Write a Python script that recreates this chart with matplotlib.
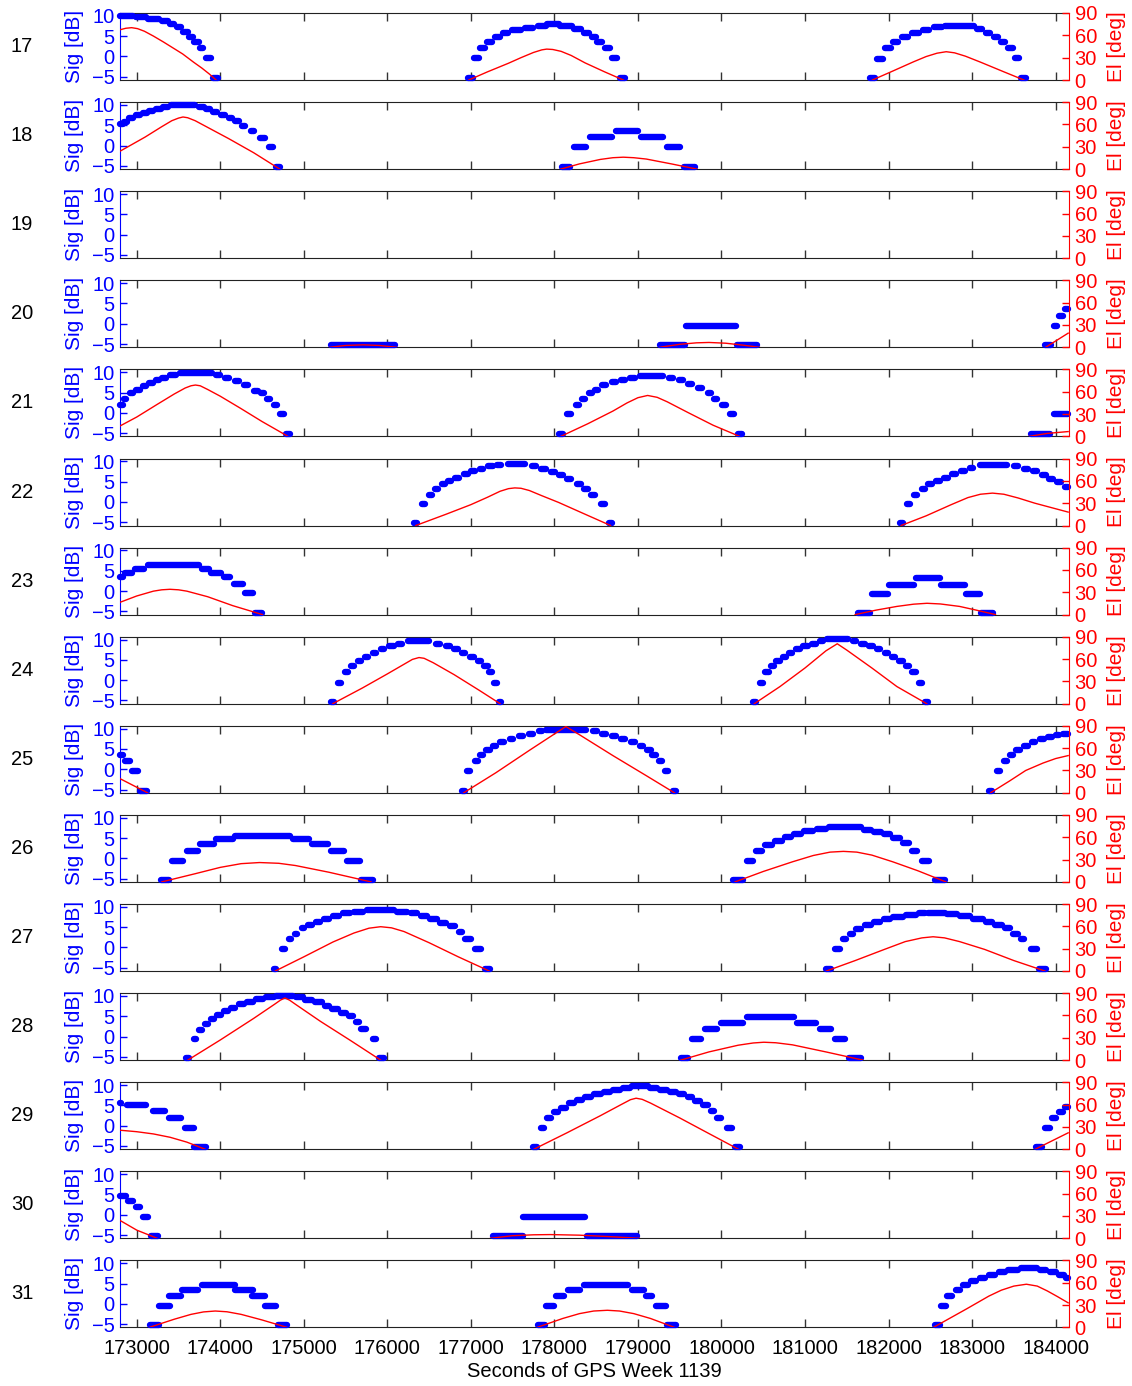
import matplotlib.pyplot as plt
from matplotlib.collections import LineCollection

plt.rcParams['font.family'] = ['Liberation Sans', 'DejaVu Sans']

# signal runs per PRN: (t_start, t_end, level in dB)
# elevation arcs per PRN: list of passes, each a list of (t, elevation deg)

sig17 = [
    (172800, 172960, 10.0), (172990, 173110, 9.7), (173140, 173270, 9.3), (173300, 173370, 8.8),
    (173400, 173450, 8.0), (173480, 173530, 7.2), (173560, 173610, 6.1), (173630, 173670, 4.9),
    (173690, 173740, 3.5), (173755, 173795, 2.0), (173830, 173890, -0.4), (173915, 173975, -5.2),
    (176960, 177020, -5.2), (177040, 177095, -0.4), (177115, 177170, 2.0), (177195, 177250, 3.5),
    (177290, 177350, 4.9), (177385, 177440, 5.7), (177495, 177595, 6.4), (177650, 177745, 7.0),
    (177800, 177900, 7.5), (177915, 178055, 7.9), (178070, 178205, 7.5), (178240, 178320, 6.8),
    (178360, 178420, 5.7), (178445, 178495, 4.9), (178515, 178565, 3.5), (178610, 178660, 2.0),
    (178690, 178745, -0.4), (178785, 178850, -5.2),
    (181775, 181840, -5.2), (181860, 181930, -0.6), (181960, 182025, 2.0), (182050, 182115, 3.5),
    (182165, 182235, 4.9), (182280, 182365, 5.7), (182410, 182485, 6.6), (182540, 182640, 7.2),
    (182670, 183025, 7.5), (183060, 183120, 6.8), (183165, 183215, 5.7), (183265, 183315, 4.9),
    (183345, 183395, 3.5), (183435, 183485, 2.0), (183510, 183560, -0.4), (183590, 183645, -5.2),
]
el17 = [
    [(172800, 67.5), (172870, 69.5), (172939, 70.3), (173010, 69), (173092, 65.5), (173200, 59),
     (173321, 51), (173450, 42), (173550, 35), (173680, 24), (173780, 16), (173870, 8), (173950, 0)],
    [(176975, 0), (177200, 11), (177450, 22.5), (177600, 30), (177750, 37), (177850, 40.5),
     (177908, 41.5), (177980, 41), (178080, 38.5), (178200, 33), (178367, 23), (178600, 11),
     (178825, 0)],
    [(181807, 0), (182050, 12), (182300, 24.5), (182450, 31.5), (182580, 36), (182690, 38),
     (182790, 36.5), (182920, 32), (183100, 24), (183380, 11), (183620, 0)],
]

sig18 = [
    (172800, 172830, 5.2), (172850, 172880, 5.9), (172910, 172960, 6.7), (172990, 173040, 7.4),
    (173070, 173120, 8.0), (173150, 173200, 8.6), (173230, 173290, 9.1), (173320, 173380, 9.5),
    (173410, 173700, 9.9), (173740, 173800, 9.4), (173830, 173880, 8.9), (173910, 173960, 8.2),
    (174010, 174060, 7.4), (174100, 174140, 6.8), (174180, 174220, 6.0), (174260, 174300, 4.9),
    (174370, 174410, 3.5), (174480, 174530, 1.9), (174580, 174630, -0.4), (174670, 174715, -5.2),
    (178090, 178190, -5.2), (178240, 178380, -0.4), (178430, 178690, 2.0), (178735, 178995, 3.5),
    (179040, 179300, 2.0), (179345, 179505, -0.4), (179555, 179680, -5.2),
]
el18 = [
    [(172800, 24), (173100, 43), (173300, 57), (173420, 65), (173500, 68.5), (173554, 70),
     (173610, 69), (173700, 65), (173800, 59), (174100, 41), (174400, 22), (174712, 0)],
    [(178076, 0), (178300, 7), (178550, 13), (178700, 15.3), (178825, 16), (178950, 15.3),
     (179100, 13.5), (179400, 7), (179704, 0)],
]

sig19 = []
el19 = []

sig20 = [
    (175330, 176090, -5.3),
    (179270, 179560, -5.3), (179580, 180170, -0.6), (180190, 180430, -5.3),
    (183870, 183950, -5.2), (183975, 184020, -0.6), (184045, 184085, 1.9), (184110, 184150, 3.6),
]
el20 = [
    [(175310, 0), (175500, 2.5), (175710, 3.3), (175900, 2.5), (176110, 0)],
    [(179260, 0), (179500, 4), (179700, 6), (179850, 6.5), (180050, 5.5), (180250, 3), (180454, 0)],
    [(183880, 0), (184150, 19)],
]

sig21 = [
    (172800, 172830, 2.0), (172850, 172875, 3.5), (172920, 172955, 4.9), (172995, 173035, 5.7),
    (173070, 173110, 6.6), (173150, 173190, 7.4), (173225, 173265, 8.0), (173300, 173345, 8.6),
    (173400, 173470, 9.2), (173520, 173900, 9.7), (173950, 174000, 9.2), (174060, 174110, 8.6),
    (174175, 174225, 7.8), (174290, 174335, 6.8), (174405, 174450, 5.5), (174485, 174525, 4.8),
    (174560, 174600, 3.5), (174640, 174680, 2.0), (174715, 174760, -0.4), (174790, 174835, -5.2),
    (178060, 178100, -5.2), (178150, 178200, -0.4), (178255, 178295, 2.0), (178335, 178370, 3.5),
    (178410, 178445, 4.8), (178485, 178525, 5.7), (178570, 178620, 6.8), (178685, 178735, 7.6),
    (178800, 178850, 8.2), (178910, 178970, 8.6), (179030, 179300, 9.0), (179370, 179425, 8.6),
    (179490, 179540, 8.0), (179605, 179650, 7.1), (179720, 179765, 6.1), (179835, 179880, 4.9),
    (179915, 179950, 3.5), (180010, 180055, 2.0), (180100, 180150, -0.4), (180195, 180240, -5.2),
    (183700, 183930, -5.2), (183980, 184150, -0.4),
]
el21 = [
    [(172800, 14), (173000, 26), (173245, 43), (173450, 57), (173580, 65), (173650, 68),
     (173703, 69), (173760, 68), (173850, 63), (174000, 54), (174239, 38), (174500, 20),
     (174812, 0)],
    [(178076, 0), (178400, 17), (178700, 34), (178870, 45), (179000, 52), (179116, 55),
     (179230, 52.5), (179350, 46.5), (179600, 32), (179900, 15), (180217, 0)],
    [(183680, 0), (183900, 4), (184150, 6.5)],
]

sig22 = [
    (176325, 176360, -5.3), (176415, 176450, -0.6), (176500, 176535, 1.6), (176575, 176610, 3.1),
    (176650, 176690, 4.3), (176725, 176765, 5.2), (176815, 176860, 6.0), (176915, 176960, 6.8),
    (177005, 177050, 7.6), (177105, 177150, 8.2), (177210, 177260, 8.8), (177310, 177360, 9.1),
    (177440, 177650, 9.3), (177730, 177780, 8.8), (177845, 177895, 8.2), (177960, 178010, 7.4),
    (178050, 178100, 6.6), (178150, 178200, 5.6), (178265, 178315, 4.5), (178360, 178405, 3.3),
    (178435, 178480, 1.6), (178560, 178600, -0.6), (178650, 178690, -5.3),
    (182135, 182170, -5.3), (182225, 182260, -0.6), (182310, 182345, 1.6), (182400, 182440, 3.1),
    (182475, 182515, 4.3), (182565, 182610, 5.2), (182665, 182710, 6.0), (182765, 182810, 6.8),
    (182870, 182915, 7.6), (182970, 183015, 8.4), (183100, 183420, 9.2), (183500, 183550, 8.8),
    (183620, 183665, 8.2), (183735, 183780, 7.5), (183835, 183880, 6.7), (183925, 183970, 5.7),
    (184020, 184065, 4.8), (184110, 184150, 3.8),
]
el22 = [
    [(176341, 0), (176700, 15), (177000, 28), (177200, 38), (177350, 46), (177450, 49.5),
     (177526, 50.5), (177600, 50), (177700, 47), (177850, 40), (178050, 31), (178350, 16),
     (178672, 0)],
    [(182151, 0), (182450, 13), (182750, 28), (182950, 37.5), (183100, 42), (183244, 43.5),
     (183380, 42), (183550, 37), (183750, 30), (184150, 18)],
]

sig23 = [
    (172800, 172830, 3.4), (172860, 172940, 4.4), (172980, 173090, 5.5), (173130, 173740, 6.5),
    (173780, 173860, 5.5), (173890, 174010, 4.5), (174050, 174120, 3.4), (174160, 174270, 1.8),
    (174300, 174390, -0.6), (174420, 174500, -5.3),
    (181630, 181780, -5.4), (181800, 181990, -0.7), (182010, 182310, 1.6), (182330, 182610, 3.2),
    (182630, 182920, 1.6), (182930, 183100, -0.7), (183110, 183250, -5.4),
]
el23 = [
    [(172800, 16.5), (173000, 25), (173200, 31.5), (173300, 33.3), (173398, 34), (173500, 33.3),
     (173600, 31.5), (173850, 24), (174150, 12), (174505, 0)],
    [(181600, 0), (181850, 6), (182100, 11), (182300, 14), (182460, 15.2), (182620, 14.3),
     (182850, 11), (183050, 6), (183280, 0)],
]

sig24 = [
    (175330, 175365, -5.3), (175411, 175451, -0.6), (175488, 175528, 1.9), (175564, 175604, 3.4),
    (175648, 175688, 4.7), (175732, 175772, 5.7), (175824, 175864, 6.7), (175920, 175965, 7.6),
    (176025, 176075, 8.4), (176125, 176175, 9.0), (176250, 176500, 9.6), (176585, 176630, 9.0),
    (176700, 176745, 8.4), (176800, 176845, 7.6), (176894, 176934, 6.8), (176994, 177034, 5.7),
    (177086, 177126, 4.7), (177162, 177202, 3.4), (177220, 177252, 1.9), (177280, 177314, -0.6),
    (177335, 177365, -5.3),
    (180378, 180410, -5.3), (180457, 180497, -0.6), (180526, 180566, 1.9), (180590, 180625, 3.4),
    (180656, 180696, 4.7), (180732, 180772, 5.7), (180808, 180848, 6.7), (180890, 180935, 7.6),
    (180980, 181030, 8.4), (181080, 181130, 9.0), (181175, 181215, 9.6), (181260, 181510, 10.2),
    (181573, 181613, 9.6), (181670, 181715, 9.0), (181770, 181815, 8.4), (181863, 181903, 7.6),
    (181955, 181995, 6.7), (182039, 182079, 5.7), (182131, 182171, 4.7), (182207, 182247, 3.4),
    (182284, 182324, 1.9), (182360, 182400, -0.6), (182440, 182475, -5.3),
]
el24 = [
    [(175347, 0), (175700, 21), (176000, 40), (176200, 53), (176300, 59.5), (176379, 62),
     (176440, 61), (176550, 55), (176800, 39), (177100, 18), (177350, 0)],
    [(180393, 0), (180700, 23), (181000, 48), (181250, 71), (181386, 80.5), (181500, 72),
     (181800, 48), (182100, 23), (182457, 0)],
]

sig25 = [
    (172800, 172830, 3.4), (172860, 172920, 2.0), (172945, 173020, -0.5), (173040, 173120, -5.4),
    (176895, 176930, -5.4), (176955, 176995, -0.5), (177047, 177087, 2.0), (177108, 177148, 3.4),
    (177185, 177225, 4.7), (177261, 177301, 5.7), (177350, 177395, 6.6), (177465, 177510, 7.5),
    (177580, 177625, 8.2), (177695, 177740, 8.8), (177810, 177855, 9.3), (177895, 178380, 9.6),
    (178460, 178505, 9.3), (178575, 178620, 8.8), (178690, 178735, 8.2), (178800, 178850, 7.5),
    (178918, 178962, 6.6), (179019, 179059, 5.7), (179111, 179151, 4.7), (179172, 179212, 3.4),
    (179249, 179289, 2.0), (179325, 179365, -0.5), (179420, 179455, -5.4),
    (183205, 183240, -5.4), (183293, 183333, -0.5), (183377, 183417, 2.0), (183454, 183494, 3.4),
    (183530, 183570, 4.7), (183620, 183665, 5.7), (183712, 183756, 6.6), (183810, 183855, 7.4),
    (183910, 183955, 8.0), (184000, 184045, 8.4), (184090, 184150, 8.6),
]
el25 = [
    [(172800, 19), (173130, 0)],
    [(176914, 0), (177300, 27), (177700, 57), (178000, 79), (178137, 89), (178300, 78),
     (178700, 50), (179100, 23), (179437, 0)],
    [(183221, 0), (183450, 16), (183642, 30), (183850, 40), (184000, 46), (184150, 50)],
]

sig26 = [
    (173290, 173390, -5.3), (173425, 173555, -0.6), (173600, 173730, 1.9), (173760, 173920, 3.5),
    (173950, 174150, 4.7), (174180, 174830, 5.5), (174870, 175060, 4.7), (175100, 175290, 3.5),
    (175330, 175480, 1.9), (175520, 175670, -0.6), (175690, 175830, -5.3),
    (180140, 180260, -5.3), (180300, 180375, -0.6), (180410, 180490, 1.9), (180525, 180605, 3.3),
    (180640, 180720, 4.3), (180755, 180835, 5.3), (180870, 180950, 6.1), (180985, 181100, 6.8),
    (181140, 181255, 7.3), (181290, 181675, 7.6), (181710, 181790, 7.1), (181825, 181905, 6.6),
    (181940, 182020, 5.9), (182055, 182135, 4.9), (182170, 182250, 3.7), (182285, 182340, 1.9),
    (182400, 182480, -0.6), (182550, 182670, -5.3),
]
el26 = [
    [(173300, 0), (173700, 11), (174000, 19.5), (174250, 24.5), (174470, 26), (174700, 25),
     (174900, 22), (175300, 13), (175806, 0)],
    [(180163, 0), (180500, 14), (180850, 27), (181100, 35.5), (181300, 40), (181460, 41),
     (181620, 40), (181800, 36), (182050, 27), (182350, 15), (182686, 0)],
]

sig27 = [
    (174646, 174672, -5.2), (174745, 174772, -0.4), (174822, 174848, 2.0), (174898, 174924, 3.4),
    (174974, 175001, 4.7), (175051, 175093, 5.5), (175143, 175192, 6.3), (175242, 175299, 7.1),
    (175349, 175421, 7.8), (175471, 175551, 8.4), (175601, 175704, 8.8), (175760, 176080, 9.2),
    (176120, 176240, 8.8), (176285, 176360, 8.4), (176400, 176475, 7.8), (176515, 176590, 7.1),
    (176630, 176700, 6.1), (176745, 176815, 5.2), (176860, 176890, 3.9), (176935, 177005, 2.0),
    (177050, 177120, -0.4), (177165, 177235, -5.2),
    (181255, 181310, -5.2), (181355, 181420, -0.4), (181460, 181495, 2.0), (181535, 181575, 3.4),
    (181615, 181670, 4.5), (181715, 181785, 5.5), (181830, 181900, 6.3), (181945, 182015, 7.0),
    (182055, 182170, 7.5), (182205, 182325, 8.1), (182360, 182440, 8.4), (182470, 182675, 8.6),
    (182700, 182820, 8.3), (182855, 182975, 7.8), (183010, 183125, 7.1), (183165, 183240, 6.3),
    (183280, 183355, 5.5), (183395, 183455, 4.7), (183495, 183545, 3.4), (183585, 183625, 2.0),
    (183700, 183775, -0.4), (183800, 183890, -5.2),
]
el27 = [
    [(174659, 0), (175000, 19), (175350, 39), (175600, 51), (175780, 57.5), (175920, 59.5),
     (176050, 58), (176200, 53), (176500, 38), (176850, 19), (177220, 0)],
    [(181256, 0), (181600, 14), (181950, 29), (182200, 39.5), (182400, 44.5), (182533, 46),
     (182670, 44.5), (182850, 39.5), (183150, 29), (183500, 14), (183871, 0)],
]

sig28 = [
    (173595, 173630, -5.3), (173680, 173710, -0.6), (173745, 173785, 1.6), (173820, 173855, 3.1),
    (173890, 173930, 4.3), (173965, 174005, 5.3), (174045, 174090, 6.2), (174130, 174180, 7.0),
    (174220, 174280, 7.9), (174320, 174390, 8.6), (174425, 174510, 9.3), (174550, 174640, 9.7),
    (174670, 174875, 10.0), (174905, 174985, 9.7), (175020, 175100, 9.1), (175135, 175215, 8.4),
    (175250, 175305, 7.6), (175340, 175405, 6.8), (175440, 175505, 5.8), (175540, 175595, 5.0),
    (175625, 175655, 3.5), (175690, 175740, 1.9), (175825, 175860, -0.6), (175900, 175955, -5.3),
    (179520, 179605, -5.3), (179650, 179760, -0.6), (179800, 179950, 1.9), (179990, 180255, 3.3),
    (180300, 180865, 4.75), (180910, 181135, 3.3), (181180, 181310, 1.9), (181355, 181480, -0.6),
    (181525, 181670, -5.3),
]
el28 = [
    [(173612, 0), (174000, 27), (174400, 56), (174650, 75), (174720, 80.5), (174774, 83.5),
     (174830, 80.5), (174900, 75), (175200, 52), (175550, 27), (175920, 0)],
    [(179513, 0), (179850, 11), (180200, 20), (180380, 23), (180507, 24), (180650, 23.3),
     (180850, 20.5), (181250, 11), (181692, 0)],
]

sig29 = [
    (172800, 172815, 5.6), (172880, 173110, 5.0), (173190, 173335, 3.6), (173385, 173525, 2.0),
    (173575, 173680, -0.5), (173690, 173830, -5.3),
    (177740, 177795, -5.3), (177835, 177875, -0.6), (177910, 177965, 1.8), (178000, 178045, 3.3),
    (178080, 178135, 4.4), (178170, 178235, 5.5), (178270, 178335, 6.3), (178370, 178440, 7.1),
    (178475, 178555, 7.8), (178590, 178670, 8.4), (178705, 178785, 8.9), (178820, 178900, 9.3),
    (178930, 179120, 9.7), (179150, 179230, 9.3), (179265, 179345, 8.9), (179380, 179455, 8.4),
    (179495, 179555, 7.7), (179595, 179650, 7.0), (179685, 179740, 6.1), (179775, 179840, 5.1),
    (179875, 179915, 3.7), (179950, 179995, 1.8), (180065, 180120, -0.6), (180165, 180225, -5.3),
    (183770, 183840, -5.3), (183870, 183930, -0.6), (183960, 184010, 1.8), (184040, 184085, 3.4),
    (184110, 184145, 4.7),
]
el29 = [
    [(172800, 25.5), (173000, 23.5), (173200, 20.5), (173400, 16), (173600, 9.5), (173818, 0)],
    [(177755, 0), (178150, 22), (178550, 45), (178800, 60), (178910, 66.5), (178978, 68.5),
     (179050, 67), (179150, 62), (179500, 42), (179850, 21), (180202, 0)],
    [(183756, 0), (184150, 22)],
]

sig30 = [
    (172800, 172870, 4.5), (172900, 172960, 3.4), (172990, 173040, 1.9), (173070, 173140, -0.6),
    (173170, 173250, -5.3),
    (177260, 177620, -5.3), (177630, 178370, -0.6), (178390, 178990, -5.3),
]
el30 = [
    [(172800, 24), (173000, 11), (173245, 0)],
    [(177235, 0), (177500, 3.5), (177750, 4.7), (177950, 5), (178300, 4.2), (178650, 2.3),
     (179017, 0)],
]

sig31 = [
    (173160, 173270, -5.3), (173265, 173395, -0.6), (173385, 173525, 1.9), (173540, 173730, 3.4),
    (173780, 174175, 4.7), (174175, 174390, 3.4), (174380, 174535, 1.9), (174535, 174665, -0.6),
    (174690, 174795, -5.3),
    (177800, 177885, -5.3), (177895, 178000, -0.6), (178025, 178115, 1.9), (178160, 178305, 3.4),
    (178350, 178880, 4.7), (178925, 179070, 3.4), (179095, 179170, 1.9), (179215, 179335, -0.6),
    (179345, 179450, -5.3),
    (182555, 182610, -5.3), (182630, 182690, -0.6), (182705, 182765, 1.9), (182805, 182855, 3.4),
    (182895, 182950, 4.7), (182990, 183050, 5.6), (183090, 183160, 6.4), (183205, 183275, 7.1),
    (183320, 183390, 7.8), (183435, 183545, 8.4), (183585, 183775, 8.9), (183815, 183890, 8.4),
    (183930, 184000, 7.95), (184045, 184095, 7.2), (184130, 184150, 6.3),
]
el31 = [
    [(173150, 0), (173450, 11), (173650, 17.5), (173800, 20.8), (173940, 22), (174080, 21),
     (174250, 17.5), (174500, 10), (174800, 0)],
    [(177793, 0), (178100, 12), (178300, 18.5), (178470, 22), (178634, 23), (178780, 22),
     (178950, 18.5), (179150, 12), (179437, 0)],
    [(182537, 0), (182936, 25), (183200, 42), (183350, 50), (183500, 55.5), (183650, 58),
     (183780, 55.5), (183900, 49), (184020, 41.5), (184150, 33)],
]

prns = list(range(17, 32))
sig_all = [sig17, sig18, sig19, sig20, sig21, sig22, sig23, sig24,
           sig25, sig26, sig27, sig28, sig29, sig30, sig31]
el_all = [el17, el18, el19, el20, el21, el22, el23, el24,
          el25, el26, el27, el28, el29, el30, el31]

xticks = list(range(173000, 184001, 1000))
sig_ticks = [-5, 0, 5, 10]
el_ticks = [0, 30, 60, 90]

W, H = 1132, 1386
fig = plt.figure(figsize=(W / 100, H / 100), dpi=100)

for k, (prn, sig, el) in enumerate(zip(prns, sig_all, el_all)):
    top = 13 + 89.1 * k
    ax = fig.add_axes([120 / W, 1 - (top + 67) / H, 949 / W, 67 / H])
    ax2 = ax.twinx()

    # signal dots, quantized runs
    if sig:
        segs = [[(t0, lv), (t1, lv)] for t0, t1, lv in sig]
        lc = LineCollection(segs, colors='blue', linewidths=4.6,
                            capstyle='round', clip_on=False, zorder=3)
        ax.add_collection(lc)

    # elevation arcs
    for arc in el:
        ax2.plot([p[0] for p in arc], [p[1] for p in arc], color='red', lw=1)

    ax.set_xlim(172800, 184160)
    ax.set_ylim(-5.8, 10.7)
    ax2.set_ylim(0, 90)

    ax.set_xticks(xticks)
    ax.set_yticks(sig_ticks)
    ax2.set_yticks(el_ticks)

    ax.tick_params(axis='x', direction='in', top=True, length=6, width=1,
                   color='#333333', labelsize=14.5, pad=8, labelbottom=(k == 14))
    ax.tick_params(axis='y', direction='in', length=5, width=1, colors='blue',
                   labelsize=14.5, pad=4)
    ax2.tick_params(axis='y', direction='in', length=5, width=1, colors='red',
                    labelsize=14.5, pad=4)
    if k == 14:
        ax.set_xticklabels([str(t) for t in xticks])
        ax.set_xlabel('Seconds of GPS Week 1139', fontsize=14.5, labelpad=3)

    for s in ('top', 'bottom'):
        ax.spines[s].set_color('#222222')
        ax2.spines[s].set_visible(False)
    ax.spines['right'].set_visible(False)
    ax.spines['left'].set_color('blue')
    ax2.spines['left'].set_visible(False)
    ax2.spines['right'].set_color('red')

    ax.set_ylabel('Sig [dB]', color='blue', fontsize=15)
    ax.yaxis.set_label_coords(-0.038, 0.5)
    ax2.set_ylabel('El [deg]', color='red', fontsize=15)
    ax2.yaxis.set_label_coords(1.040, 0.5)

    fig.text(22 / W, 1 - (top + 33.5) / H, str(prn), ha='center', va='center',
             fontsize=14.5)

fig.savefig('out.png', dpi=100)
